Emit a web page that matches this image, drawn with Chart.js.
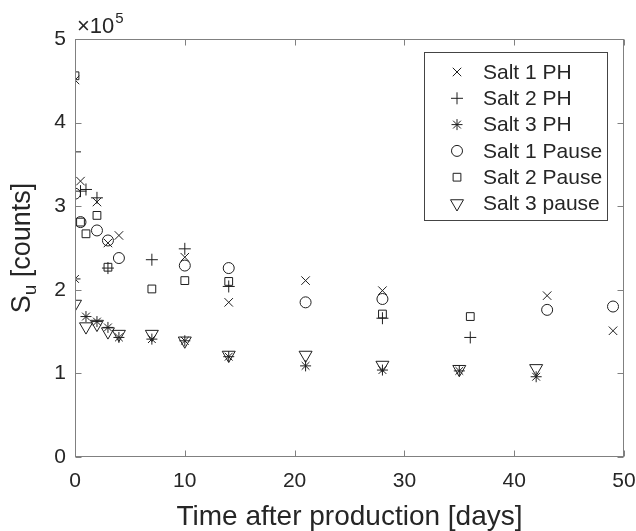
<!DOCTYPE html>
<html>
<head>
<meta charset="utf-8">
<script src="https://cdn.jsdelivr.net/npm/chart.js@4.4.1/dist/chart.umd.min.js"></script>
<style>
  html, body { margin: 0; padding: 0; background: #fff; }
  canvas { display: block; }
</style>
</head>
<body>
<canvas id="chart" width="636" height="531"></canvas>
<script>
// days after production, counts
const salt1PHDays = [0, 0.5, 2, 3, 4, 10, 14, 21, 28, 43, 49];
const salt1PHCounts = [451000, 330000, 305000, 256000, 265000, 239000, 185000, 211000, 199000, 193000, 151000];

const salt2PHDays = [0, 0.5, 1, 2, 3, 7, 10, 14, 28, 36];
const salt2PHCounts = [365000, 318000, 320000, 310000, 226000, 236000, 249000, 204000, 166000, 143000];

const salt3PHDays = [0, 1, 2, 3, 4, 7, 10, 14, 21, 28, 35, 42];
const salt3PHCounts = [213000, 168000, 162000, 155000, 143000, 141000, 139000, 120000, 109000, 104000, 103000, 96000];

const salt1PauseDays = [0, 0.5, 2, 3, 4, 10, 14, 21, 28, 43, 49];
const salt1PauseCounts = [315000, 281000, 271000, 259000, 238000, 229000, 226000, 185000, 189000, 176000, 180000];

const salt2PauseDays = [0, 0.5, 1, 2, 3, 7, 10, 14, 28, 36];
const salt2PauseCounts = [456000, 281000, 267000, 289000, 227000, 201000, 211000, 210000, 171000, 168000];

const salt3PauseDays = [0, 1, 2, 3, 4, 7, 10, 14, 21, 28, 35, 42];
const salt3PauseCounts = [183000, 156000, 159000, 150000, 147000, 147000, 139000, 122000, 122000, 110000, 105000, 106000];

const seriesLabels = ['Salt 1 PH', 'Salt 2 PH', 'Salt 3 PH', 'Salt 1 Pause', 'Salt 2 Pause', 'Salt 3 pause'];
const xTicks = [0, 10, 20, 30, 40, 50];
const yTicks = [0, 100000, 200000, 300000, 400000, 500000];

const INK = '#262626';
const MARK = '#1e1e1e';
const FONT = '"Liberation Sans", Arial, sans-serif';

function pairs(xs, ys) {
    return xs.map((x, i) => ({x: x, y: ys[i]}));
}

function series(label, xs, ys, style, radius, rotation) {
    return {
        label: label,
        data: pairs(xs, ys),
        pointStyle: style,
        pointRadius: radius,
        pointHoverRadius: radius,
        pointRotation: rotation || 0,
        pointBorderColor: MARK,
        pointBackgroundColor: 'rgba(0,0,0,0)',
        pointBorderWidth: 1,
        showLine: false
    };
}

// box, inward ticks, y title, exponent and legend, drawn like the matlab figure
const figureDecor = {
    id: 'figureDecor',
    afterDraw(chart) {
        const ctx = chart.ctx;
        const a = chart.chartArea;
        const xs = chart.scales.x;
        const ys = chart.scales.y;
        const L = Math.round(a.left) + 0.5, R = Math.round(a.right) - 0.5;
        const T = Math.round(a.top) + 0.5, B = Math.round(a.bottom) - 0.5;

        ctx.save();
        ctx.strokeStyle = '#808080';
        ctx.lineWidth = 1;
        ctx.strokeRect(L, T, R - L, B - T);
        ctx.beginPath();
        xTicks.forEach(v => {
            const px = Math.round(xs.getPixelForValue(v)) + 0.5;
            ctx.moveTo(px, B); ctx.lineTo(px, B - 6);
            ctx.moveTo(px, T); ctx.lineTo(px, T + 6);
        });
        yTicks.forEach(v => {
            const py = Math.round(ys.getPixelForValue(v)) + 0.5;
            ctx.moveTo(L, py); ctx.lineTo(L + 6, py);
            ctx.moveTo(R, py); ctx.lineTo(R - 6, py);
        });
        ctx.stroke();

        // x10^5
        ctx.fillStyle = INK;
        ctx.textBaseline = 'alphabetic';
        ctx.textAlign = 'left';
        ctx.font = '22px ' + FONT;
        ctx.fillText('\u00d710', 77, 33);
        const w10 = ctx.measureText('\u00d710').width;
        ctx.font = '15px ' + FONT;
        ctx.fillText('5', 77 + w10 + 1, 23);

        // y title S_u [counts]
        ctx.translate(30, (a.top + a.bottom) / 2);
        ctx.rotate(-Math.PI / 2);
        ctx.font = '27px ' + FONT;
        const wS = ctx.measureText('S').width;
        const wRest = ctx.measureText(' [counts]').width;
        ctx.font = '19px ' + FONT;
        const wU = ctx.measureText('u').width;
        let x0 = -(wS + wU + wRest) / 2;
        ctx.font = '27px ' + FONT;
        ctx.fillText('S', x0, 0);
        ctx.font = '19px ' + FONT;
        ctx.fillText('u', x0 + wS, 6);
        ctx.font = '27px ' + FONT;
        ctx.fillText(' [counts]', x0 + wS + wU, 0);
        ctx.restore();

        // legend
        ctx.save();
        const bx = 424.5, by = 52.5, bw = 183, bh = 168;
        ctx.fillStyle = '#fff';
        ctx.fillRect(bx, by, bw, bh);
        ctx.strokeStyle = '#444';
        ctx.lineWidth = 1;
        ctx.strokeRect(bx, by, bw, bh);
        ctx.font = '21px ' + FONT;
        ctx.textBaseline = 'middle';
        ctx.textAlign = 'left';
        chart.data.datasets.forEach((ds, i) => {
            const cy = 72 + i * 26.3;
            ctx.strokeStyle = MARK;
            ctx.fillStyle = 'rgba(0,0,0,0)';
            ctx.lineWidth = 1;
            if (Chart.helpers && Chart.helpers.drawPoint) {
                Chart.helpers.drawPoint(ctx, {
                    pointStyle: ds.pointStyle,
                    radius: ds.pointRadius,
                    rotation: ds.pointRotation,
                    borderWidth: 1
                }, 457, cy);
            }
            ctx.fillStyle = INK;
            ctx.fillText(ds.label, 483, cy + 1);
        });
        ctx.restore();
    }
};

new Chart(document.getElementById('chart'), {
    type: 'scatter',
    data: {
        datasets: [
            series(seriesLabels[0], salt1PHDays, salt1PHCounts, 'crossRot', 6),
            series(seriesLabels[1], salt2PHDays, salt2PHCounts, 'cross', 6),
            series(seriesLabels[2], salt3PHDays, salt3PHCounts, 'star', 5.5),
            series(seriesLabels[3], salt1PauseDays, salt1PauseCounts, 'circle', 5.5),
            series(seriesLabels[4], salt2PauseDays, salt2PauseCounts, 'rect', 5.5),
            series(seriesLabels[5], salt3PauseDays, salt3PauseCounts, 'triangle', 7.5, 180)
        ]
    },
    options: {
        responsive: false,
        animation: false,
        devicePixelRatio: 1,
        layout: { padding: { top: 39, right: 12, left: 0, bottom: 0 } },
        plugins: {
            legend: { display: false },
            tooltip: { enabled: false }
        },
        scales: {
            x: {
                type: 'linear',
                min: 0,
                max: 50,
                afterFit: s => { s.height = 74; s.paddingLeft = 0; s.paddingRight = 0; },
                afterBuildTicks: s => { s.ticks = xTicks.map(v => ({value: v})); },
                grid: { display: false, drawTicks: false },
                border: { display: false },
                ticks: { color: INK, font: { family: FONT, size: 21 }, padding: 12, maxRotation: 0 },
                title: {
                    display: true,
                    text: 'Time after production [days]',
                    color: INK,
                    font: { family: FONT, size: 28 },
                    padding: { top: 0, bottom: -3 }
                }
            },
            y: {
                type: 'linear',
                min: 0,
                max: 500000,
                afterFit: s => { s.width = 75; },
                afterBuildTicks: s => { s.ticks = yTicks.map(v => ({value: v})); },
                grid: { display: false, drawTicks: false },
                border: { display: false },
                ticks: {
                    color: INK,
                    font: { family: FONT, size: 21 },
                    padding: 9,
                    callback: v => String(v / 100000)
                }
            }
        }
    },
    plugins: [figureDecor]
});
</script>
</body>
</html>
